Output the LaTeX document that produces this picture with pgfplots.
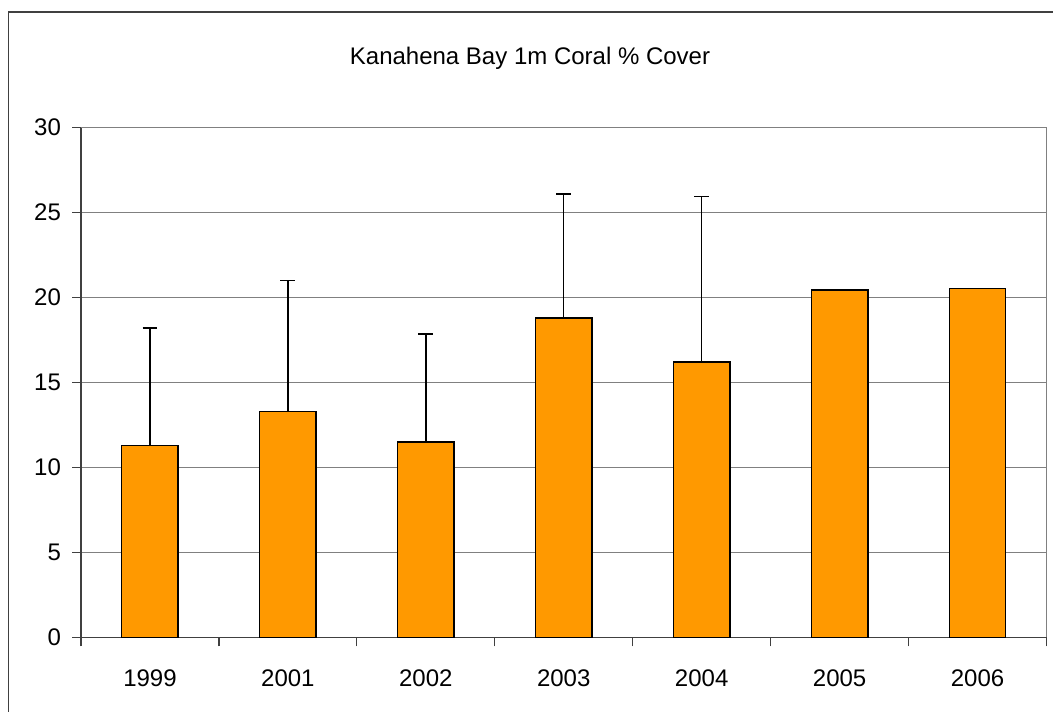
\documentclass[border=0pt]{standalone}
\usepackage{fontspec}
\setmainfont{Liberation Sans}
\usepackage{pgfplots}
\pgfplotsset{compat=1.18}
\definecolor{barorange}{HTML}{FF9900}
\definecolor{gridgray}{HTML}{808080}
\definecolor{axisdark}{HTML}{404040}
\begin{document}
\begin{tikzpicture}[font=\fontsize{12}{14.4}\selectfont]
\useasboundingbox (0,0) rectangle (526.5pt,355.5pt);
\draw[axisdark, line width=0.6pt] (4.35pt,-5pt) -- (4.35pt,349.5pt) -- (540pt,349.5pt);
\node[anchor=base] at (265pt,323.3pt) {Kanahena Bay 1m Coral \% Cover};
\begin{axis}[
  at={(40.5pt,36.85pt)}, anchor=south west,
  scale only axis, width=482.75pt, height=254.8pt,
  xmin=-0.5, xmax=6.5, ymin=0, ymax=30,
  axis x line*=bottom, axis y line*=left,
  axis line style={-, axisdark, line width=0.6pt},
  xtick={0,...,6},
  xticklabels={1999,2001,2002,2003,2004,2005,2006},
  minor xtick={-0.5,0.5,...,6.5},
  ytick={0,5,...,30},
  tick align=outside,
  major tick length=4.5pt,
  minor tick length=4.5pt,
  x tick style={draw=none},
  minor x tick style={draw=axisdark, line width=0.6pt},
  y tick style={draw=axisdark, line width=0.6pt},
  ymajorgrids,
  major grid style={gridgray, line width=0.6pt},
  /pgf/number format/assume math mode=true,
  ticklabel style={font=\fontsize{12}{14.4}\selectfont},
  xticklabel style={yshift=-8pt},
  yticklabel style={xshift=-2pt},
  clip=false,
]
\addplot[ybar, bar width=28.2pt, fill=barorange, draw=black, line width=0.7pt,
  error bars/.cd, y dir=plus, y explicit,
  error bar style={black, line width=0.7pt},
  error mark options={black, line width=0.7pt, mark size=3.7pt, rotate=90}]
  table[x=x, y=y, y error=e] {
x y e
0 11.3 6.9
1 13.3 7.7
2 11.5 6.35
3 18.8 7.3
4 16.2 9.75
5 20.45 0
6 20.55 0
};
\draw[gridgray, line width=0.6pt] (rel axis cs:1,0) -- (rel axis cs:1,1);
\end{axis}
\end{tikzpicture}
\end{document}
